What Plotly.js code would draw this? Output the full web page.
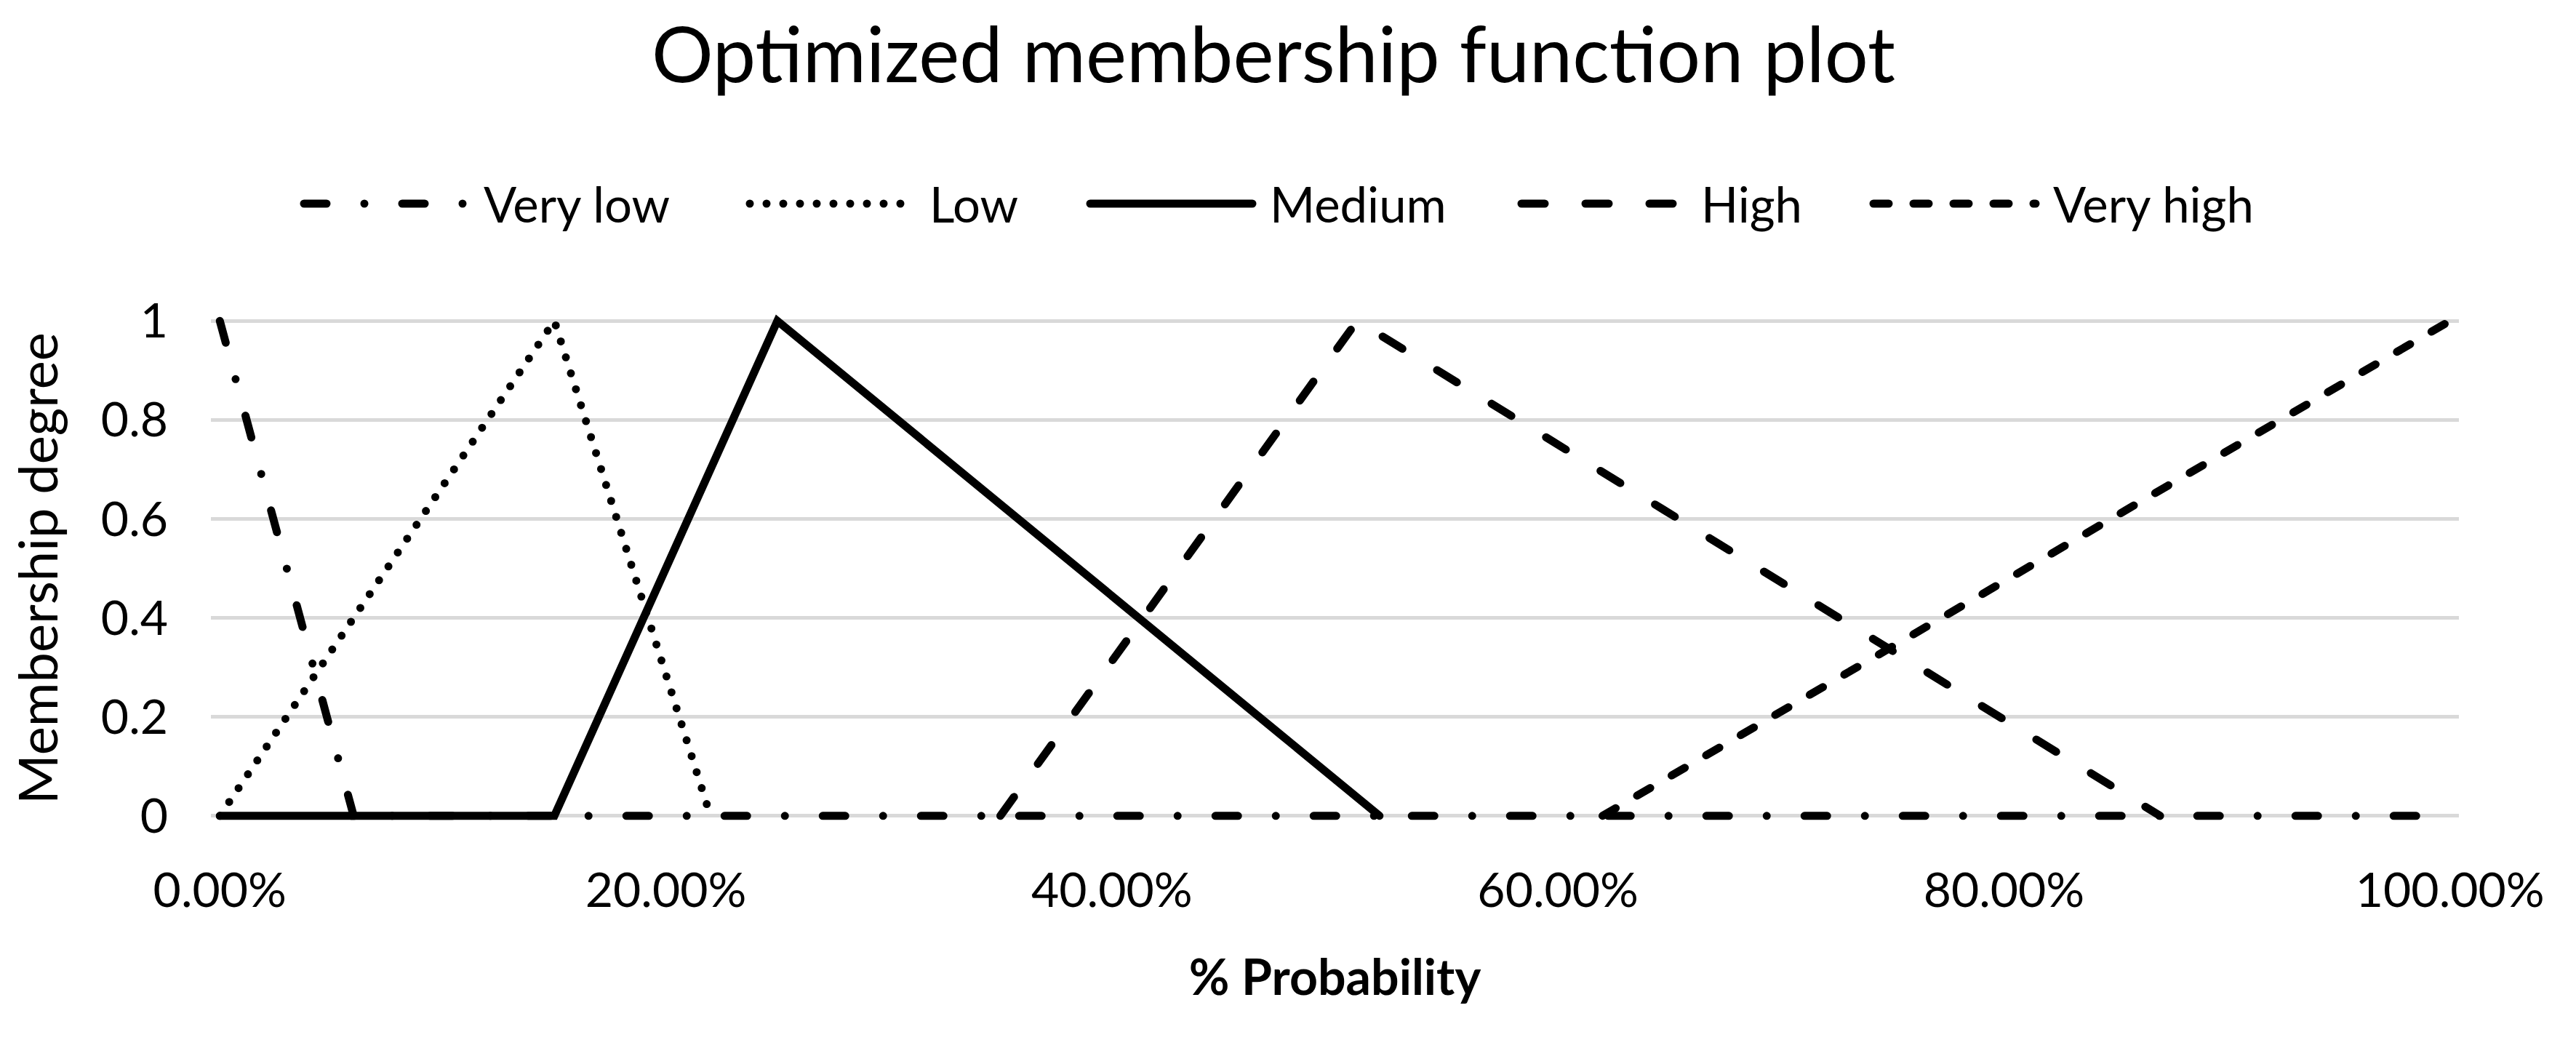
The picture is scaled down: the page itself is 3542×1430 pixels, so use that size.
<!DOCTYPE html>
<html>
<head>
<meta charset="utf-8">
<script src="https://cdn.plot.ly/plotly-3.0.1.min.js"></script>
<style>
  html, body { margin: 0; padding: 0; background: #ffffff; }
  #chart { width: 3542px; height: 1430px; }
  .scatterlayer path.js-line, .shapelayer path { stroke-linecap: round; }
</style>
</head>
<body>
<div id="chart"></div>
<script>
// ---- Data ----
const seriesNames = ["Very low", "Low", "Medium", "High", "Very high"];

const veryLowX  = [0, 0.06, 1.0];
const veryLowY  = [1, 0, 0];

const lowX      = [0, 0.15, 0.22];
const lowY      = [0, 1, 0];

const mediumX   = [0, 0.15, 0.25, 0.52];
const mediumY   = [0, 0, 1, 0];

const highX     = [0.35, 0.51, 0.87];
const highY     = [0, 1, 0];

const veryHighX = [0.62, 1.0];
const veryHighY = [0, 1];

const xTickVals = [0, 0.2, 0.4, 0.6, 0.8, 1.0];
const yTickVals = [0, 0.2, 0.4, 0.6, 0.8, 1.0];

const titleText  = "Optimized membership function plot";
const xTitleText = "<b>% Probability</b>";
const yTitleText = "Membership degree";

// ---- Styles ----
const LW = 11;
const dashes = [
  "31px,52px,0px,52px",   // Very low: dash-dot
  "0px,23px",             // Low: round dots
  "solid",                // Medium
  "32px,56px",            // High: long dash
  "21px,34px"             // Very high: short dash
];

const xs = [veryLowX, lowX, mediumX, highX, veryHighX];
const ys = [veryLowY, lowY, mediumY, highY, veryHighY];

const traces = seriesNames.map((name, i) => ({
  type: "scatter",
  mode: "lines",
  name: name,
  x: xs[i],
  y: ys[i],
  line: { color: "#000000", width: LW, dash: dashes[i] },
  showlegend: false,
  hoverinfo: "skip",
  cliponaxis: false
}));

// ---- Layout geometry ----
const W = 3542, H = 1430;
const M = { l: 290, r: 161, t: 431, b: 298 };
const plotW = W - M.l - M.r, plotH = H - M.t - M.b;
const px2paperX = px => (px - M.l) / plotW;
const py2paperY = py => (H - M.b - py) / plotH;

// custom legend (long line samples like the original)
const legendTextX = [663, 1276, 1744, 2337, 2821];
const legendY = 280;
const shapes = [];
const annotations = [];
seriesNames.forEach((name, i) => {
  shapes.push({
    type: "line", xref: "paper", yref: "paper",
    x0: px2paperX(legendTextX[i] - 245), x1: px2paperX(legendTextX[i] - 22),
    y0: py2paperY(legendY), y1: py2paperY(legendY),
    line: { color: "#000000", width: LW, dash: dashes[i] }
  });
  annotations.push({
    xref: "paper", yref: "paper",
    x: px2paperX(legendTextX[i]), y: py2paperY(legendY),
    xanchor: "left", yanchor: "middle",
    text: name, showarrow: false,
    font: { family: "Lato, sans-serif", size: 67, color: "#000000" }
  });
});

const layout = {
  width: W, height: H,
  margin: M,
  paper_bgcolor: "#ffffff",
  plot_bgcolor: "#ffffff",
  font: { family: "Lato, sans-serif", color: "#000000", size: 66 },
  title: {
    text: titleText,
    font: { family: "Lato, sans-serif", size: 106, color: "#000000" },
    x: 1751 / W, xref: "container", xanchor: "center",
    y: 1 - 76 / H, yref: "container", yanchor: "middle"
  },
  showlegend: false,
  xaxis: {
    range: [-0.004, 1.004],
    tickvals: xTickVals,
    tickformat: ".2%",
    showgrid: false,
    zeroline: false,
    showline: false,
    ticks: "",
    ticklabelstandoff: 48,
    tickfont: { family: "Lato, sans-serif", size: 66, color: "#000000" },
    title: {
      text: xTitleText,
      font: { family: "Lato, sans-serif", size: 68, color: "#000000" },
      standoff: 60
    },
    automargin: false,
    fixedrange: true
  },
  yaxis: {
    range: [-0.015, 1.015],
    tickvals: yTickVals,
    showgrid: true,
    gridcolor: "#d9d9d9",
    gridwidth: 5,
    zeroline: false,
    showline: false,
    ticks: "",
    ticklabelstandoff: 58,
    tickfont: { family: "Lato, sans-serif", size: 66, color: "#000000" },
    title: {
      text: yTitleText,
      font: { family: "Lato, sans-serif", size: 74, color: "#000000" },
      standoff: 34
    },
    automargin: false,
    fixedrange: true
  },
  shapes: shapes,
  annotations: annotations
};

Plotly.newPlot("chart", traces, layout, { staticPlot: true, displayModeBar: false });
</script>
</body>
</html>
